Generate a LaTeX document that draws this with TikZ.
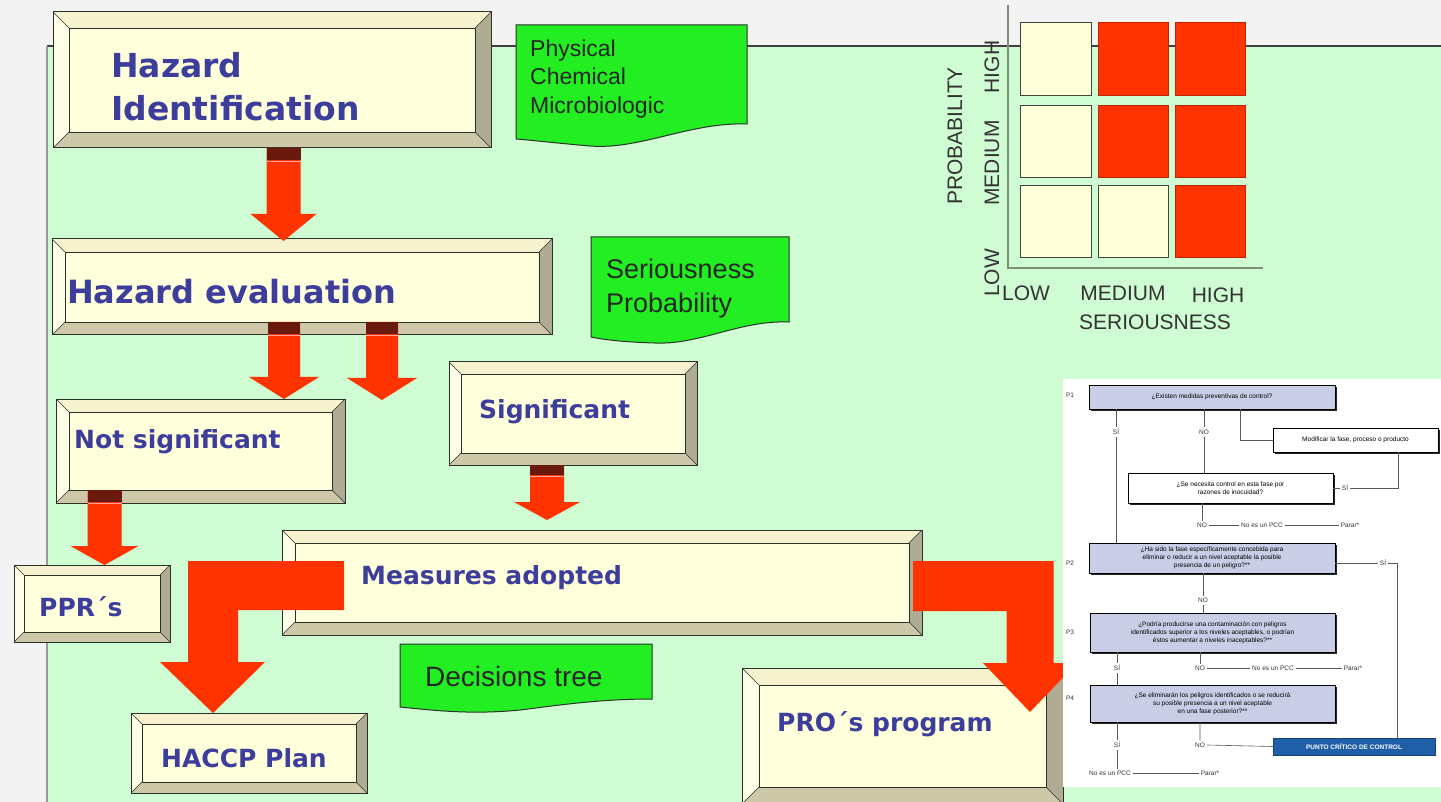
\documentclass[tikz,border=0pt]{standalone}
\usepackage{fontspec}
\setmainfont{Liberation Sans}
\newfontfamily\bxfont{DejaVu Sans}
\usetikzlibrary{calc,shadows}
\definecolor{mint}{HTML}{CFFCD2}
\definecolor{topgray}{HTML}{F2F3F2}
\definecolor{face}{HTML}{FFFFDC}
\definecolor{bvtop}{HTML}{F6F2CE}
\definecolor{bvleft}{HTML}{FFFFE8}
\definecolor{bvright}{HTML}{B0AC94}
\definecolor{bvbot}{HTML}{CCC8A8}
\definecolor{edge}{HTML}{2A302A}
\definecolor{arrowred}{HTML}{FF3300}
\definecolor{band}{HTML}{6A1A0C}
\definecolor{notegreen}{HTML}{22EE22}
\definecolor{txtblue}{HTML}{3D3D9B}
\definecolor{cellcream}{HTML}{FFFFD8}
\definecolor{axisgray}{HTML}{7E9078}
\definecolor{dtblue}{HTML}{C9CDE6}
\definecolor{pccblue}{HTML}{1F5FA8}

\newcommand\bevelfill[1]{%
  \path (path picture bounding box.north west) coordinate (pNW)
        (path picture bounding box.north east) coordinate (pNE)
        (path picture bounding box.south west) coordinate (pSW)
        (path picture bounding box.south east) coordinate (pSE);
  \path ([shift={(#1pt,-#1pt)}]pNW) coordinate (qNW)
        ([shift={(-#1pt,-#1pt)}]pNE) coordinate (qNE)
        ([shift={(#1pt,#1pt)}]pSW) coordinate (qSW)
        ([shift={(-#1pt,#1pt)}]pSE) coordinate (qSE);
  \fill[bvtop] (pNW)--(pNE)--(qNE)--(qNW)--cycle;
  \fill[bvleft] (pNW)--(qNW)--(qSW)--(pSW)--cycle;
  \fill[bvright] (pNE)--(pSE)--(qSE)--(qNE)--cycle;
  \fill[bvbot] (pSW)--(qSW)--(qSE)--(pSE)--cycle;
  \draw[edge, line width=0.9pt] (qNW) rectangle (qSE);
  \draw[edge, line width=0.5pt] (pNW)--(qNW) (pNE)--(qNE) (pSW)--(qSW) (pSE)--(qSE);
}

% #1 style, #2 name, #3 x1, #4 y1, #5 x2, #6 y2, #7 text
\newcommand\cnode[7]{%
  \pgfmathsetmacro\cx{(#3+#5)/2}\pgfmathsetmacro\cy{(#4+#6)/2}%
  \pgfmathsetmacro\ww{#5-#3}\pgfmathsetmacro\hh{#6-#4}%
  \node[inner sep=0pt, outer sep=0pt, #1, minimum width=\ww pt, minimum height=\hh pt] (#2) at (\cx,\cy) {#7};}

% #1 start, #2 tip, #3 shaft half width, #4 head half width, #5 head length, #6 band length
\newcommand\redarrowdown[6]{%
  \fill[arrowred] ($(#1)+(-#3,0)$) -- ($(#1)+(#3,0)$) -- ($(#2)+(#3,-#5)$) -- ($(#2)+(#4,-#5)$)
     -- (#2) -- ($(#2)+(-#4,-#5)$) -- ($(#2)+(-#3,-#5)$) -- cycle;
  \fill[band] ($(#1)+(-#3,0)$) rectangle ($(#1)+(#3,#6)$);
  \draw[red!35!white, line width=1pt] ($(#1)+(-#3,#6+1.5)$) -- ($(#1)+(#3,#6+1.5)$);
}

\tikzset{
  bevel/.style={fill=face, draw=edge, line width=1pt, path picture={\bevelfill{#1}}},
  boxtext/.style={text=txtblue, inner sep=0pt, anchor=west, align=left,
      font=\bxfont\bfseries\fontsize{25}{30}\selectfont},
  notetext/.style={text=black!85, inner sep=0pt, anchor=west, align=left},
  note/.style={fill=notegreen, draw=edge, line width=1pt},
  cellc/.style={fill=cellcream, draw=edge!90, line width=1pt},
  cellr/.style={fill=arrowred, draw=arrowred!75!black, line width=1pt},
  axlab/.style={text=black!80, inner sep=0pt, font=\fontsize{21}{24}\selectfont},
  dtq/.style={fill=dtblue, draw=black, line width=0.7pt, align=center,
      font=\fontsize{6.5}{8}\selectfont,
      drop shadow={shadow xshift=2pt, shadow yshift=-2pt, fill=black!85, opacity=1}},
  dtw/.style={fill=white, draw=black, line width=0.7pt, align=center,
      font=\fontsize{6.5}{8}\selectfont,
      drop shadow={shadow xshift=2pt, shadow yshift=-2pt, fill=black!85, opacity=1}},
  pccbox/.style={fill=pccblue, draw=pccblue!70!black, text=white, align=center,
      font=\bfseries\fontsize{6.5}{8}\selectfont},
  dtt/.style={inner sep=2pt, font=\fontsize{6.5}{8}\selectfont, text=black!80},
  dtl/.style={draw=black!65, line width=0.6pt},
  axisline/.style={draw=axisgray, line width=1.2pt},
}

\begin{document}
\begin{tikzpicture}[x=1pt,y=-1pt]
\useasboundingbox (0,0) rectangle (1441,802);
\clip (0,0) rectangle (1441,802);

% background and frame
\fill[topgray] (0,0) rectangle (1441,802);
\fill[mint] (47,46) rectangle (1441,802);
\draw[black!75, line width=1.5pt] (47,46) -- (1441,46);
\draw[black!40, line width=1.2pt] (47,46) -- (47,802);

% risk matrix
\coordinate (axy) at (1008,5);
\coordinate (ax0) at (1008,268);
\coordinate (axx) at (1263,268);
\draw[axisline] (axy) -- (ax0) -- (axx);
\cnode{cellc}{c11}{1020}{23}{1091}{96}{}
\cnode{cellr}{c12}{1098}{23}{1168}{96}{}
\cnode{cellr}{c13}{1175}{23}{1245}{96}{}
\cnode{cellc}{c21}{1020}{106}{1091}{178}{}
\cnode{cellr}{c22}{1098}{106}{1168}{178}{}
\cnode{cellr}{c23}{1175}{106}{1245}{178}{}
\cnode{cellc}{c31}{1020}{186}{1091}{258}{}
\cnode{cellc}{c32}{1098}{186}{1168}{258}{}
\cnode{cellr}{c33}{1175}{186}{1245}{258}{}
\node[axlab, rotate=90] (lprob) at (955,136) {PROBABILITY};
\node[axlab, rotate=90] (lphigh) at (992,67) {HIGH};
\node[axlab, rotate=90] (lpmed) at (992,163) {MEDIUM};
\node[axlab, rotate=90] (lplow) at (992,273) {LOW};
\node[axlab] (lslow) at (1026,293) {LOW};
\node[axlab] (lsmed) at (1123,293) {MEDIUM};
\node[axlab] (lshigh) at (1218,295) {HIGH};
\node[axlab] (lser) at (1155,322) {SERIOUSNESS};

% green notes
\draw[note] (516,25) -- (747,25) -- (747,124) .. controls (690,122) and (640,150) .. (590,146)
   .. controls (555,143) and (530,140) .. (516,139) -- cycle;
\node[notetext, font=\fontsize{23}{28.5}\selectfont] (n1t) at (530,79) {Physical\\Chemical\\Microbiologic};
\draw[note] (591,237) -- (789,237) -- (789,322) .. controls (740,320) and (700,345) .. (655,343)
   .. controls (620,342) and (600,339) .. (591,337) -- cycle;
\node[notetext, font=\fontsize{27}{34}\selectfont] (n2t) at (606,289) {Seriousness\\Probability};
\draw[note] (400,644) -- (652,644) -- (652,699) .. controls (600,699) and (560,705) .. (520,710)
   .. controls (470,715) and (430,710) .. (400,707) -- cycle;
\node[notetext, font=\fontsize{28}{32}\selectfont] (n3t) at (425,676) {Decisions tree};

% bevel boxes
\cnode{bevel=16}{hi}{53}{12}{491}{148}{}
\cnode{bevel=13}{he}{52}{239}{552}{335}{}
\cnode{bevel=13}{ns}{56}{399}{345}{503}{}
\cnode{bevel=12}{sig}{449}{362}{697}{465}{}
\cnode{bevel=13}{ma}{282}{530}{922}{635}{}
\cnode{bevel=10}{ppr}{14}{565}{170}{642}{}
\cnode{bevel=11}{haccp}{131}{713}{367}{793}{}
\cnode{bevel=17}{pro}{742}{668}{1063}{804}{}

% straight arrows
\path (hi.south) ++(11.5,0) coordinate (a1s);
\path (a1s |- he.north) ++(0,2) coordinate (a1t);
\redarrowdown{a1s}{a1t}{17}{33}{27}{12}
\path (he.south) ++(-18,-13) coordinate (a2s);
\path (a2s |- ns.north) coordinate (a2t);
\redarrowdown{a2s}{a2t}{16}{35}{22}{12}
\path (he.south) ++(80,-13) coordinate (a3s);
\path (a3s) ++(0,78) coordinate (a3t);
\redarrowdown{a3s}{a3t}{16}{35}{22}{12}
\path (ns.south) ++(-96,-13) coordinate (a4s);
\path (a4s |- ppr.north) coordinate (a4t);
\redarrowdown{a4s}{a4t}{17}{34}{19}{12}
\path (sig.south) ++(-26,0) coordinate (a5s);
\path (a5s |- ma.north) ++(0,-10) coordinate (a5t);
\redarrowdown{a5s}{a5t}{17}{33}{18}{10}

% L-shaped arrow to HACCP plan
\path (ma.west) ++(62,3) coordinate (L1);
\path (haccp.north) ++(-36,0) coordinate (L2);
\path (L1) ++(0,-24.5) coordinate (La) (L1) ++(0,24.5) coordinate (Lb);
\path (L2) ++(-25,-51) coordinate (Lc) (L2) ++(25,-51) coordinate (Ld)
      (L2) ++(-53,-51) coordinate (Le) (L2) ++(52,-51) coordinate (Lf);
\fill[arrowred] (La) -| (Lc) -- (Le) -- (L2) -- (Lf) -- (Ld) |- (Lb) -- cycle;

% L-shaped arrow to PRO's program
\path (ma.east) ++(-9,3.5) coordinate (R1);
\path (pro.north east) ++(-33,44) coordinate (R2);
\path (R1) ++(0,-25) coordinate (Ra) (R1) ++(0,25) coordinate (Rb);
\path (R2) ++(23.5,-49) coordinate (Rc) (R2) ++(-23.5,-49) coordinate (Rd)
      (R2) ++(47,-49) coordinate (Re) (R2) ++(-47,-49) coordinate (Rf);
\fill[arrowred] (Ra) -| (Rc) -- (Re) -- (R2) -- (Rf) -- (Rd) |- (Rb) -- cycle;

% box texts
\node[boxtext, font=\bxfont\bfseries\fontsize{33}{43}\selectfont] (hit) at (111,87) {Hazard\\Identification};
\node[boxtext, font=\bxfont\bfseries\fontsize{32}{38}\selectfont] (het) at (67,292) {Hazard evaluation};
\node[boxtext] (nst) at (74,442) {Not significant};
\node[boxtext] (sigt) at (479,412) {Significant};
\node[boxtext] (mat) at (361,578) {Measures adopted};
\node[boxtext] (pprt) at (39,607) {PPR´s};
\node[boxtext] (haccpt) at (161,758) {HACCP Plan};
\node[boxtext] (prot) at (777,724) {PRO´s program};

% decision tree panel
\cnode{fill=white}{dt}{1063}{379}{1441}{787}{}
\cnode{dtq}{q1}{1089}{385}{1335}{409}{¿Existen medidas preventivas de control?}
\node[dtt] (p1) at (1070,395) {P1};
\node[dtt] (q1si) at (1116,432) {SÍ};
\node[dtt] (q1no) at (1204,432) {NO};
\cnode{dtw}{mod}{1273}{428}{1438}{452}{Modificar la fase, proceso o producto}
\cnode{dtw}{qc}{1128}{473}{1333}{503}{¿Se necesita control en esta fase por\\razones de inocuidad?}
\node[dtt] (qcsi) at (1345,488) {SÍ};
\node[dtt] (qcno) at (1202,525) {NO};
\node[dtt] (qcpcc) at (1262,525) {No es un PCC};
\node[dtt] (qcpar) at (1350,525) {Parar*};
\cnode{dtq}{q2}{1089}{543}{1335}{573}{¿Ha sido la fase específicamente concebida para\\eliminar o reducir a un nivel aceptable la posible\\presencia de un peligro?**}
\node[dtt] (p2) at (1070,563) {P2};
\node[dtt] (q2si) at (1383,563) {SÍ};
\node[dtt] (q2no) at (1203,600) {NO};
\cnode{dtq}{q3}{1090}{613}{1335}{652}{¿Podría producirse una contaminación con peligros\\identificados superior a los niveles aceptables, o podrían\\éstos aumentar a niveles inaceptables?**}
\node[dtt] (p3) at (1070,632) {P3};
\node[dtt] (q3si) at (1117,668) {SÍ};
\node[dtt] (q3no) at (1200,668) {NO};
\node[dtt] (q3pcc) at (1273,668) {No es un PCC};
\node[dtt] (q3par) at (1353,668) {Parar*};
\cnode{dtq}{q4}{1090}{685}{1335}{722}{¿Se eliminarán los peligros identificados o se reducirá\\su posible presencia a un nivel aceptable\\en una fase posterior?**}
\node[dtt] (p4) at (1070,698) {P4};
\node[dtt] (q4si) at (1117,745) {SÍ};
\node[dtt] (q4no) at (1200,745) {NO};
\cnode{pccbox}{pcc}{1273}{738}{1435}{755}{PUNTO CRÍTICO DE CONTROL}
\node[dtt] (endpcc) at (1110,773) {No es un PCC};
\node[dtt] (endpar) at (1210,773) {Parar*};
\coordinate (mx) at (1240,440);
\coordinate (mx2) at (1398,488);
\coordinate (vx) at (1397,563);
\draw[dtl] (q1si |- q1.south) -- (q1si.north) (q1si.south) -- (q1si |- q2.north);
\draw[dtl] (q1no |- q1.south) -- (q1no.north) (q1no.south) -- (q1no |- qc.north);
\draw[dtl] (mx |- q1.south) |- (mod.west);
\draw[dtl] (qc.east) -- (qcsi.west) (qcsi.east) -- (mx2) -- (mx2 |- mod.south);
\draw[dtl] (qcno |- qc.south) -- (qcno.north) (qcno.east) -- (qcpcc.west) (qcpcc.east) -- (qcpar.west);
\draw[dtl] (q2.east |- q2si) -- (q2si.west) (q2si.east) -- (vx) -- (vx |- pcc.north);
\draw[dtl] (q2no |- q2.south) -- (q2no.north) (q2no.south) -- (q2no |- q3.north);
\draw[dtl] (q3si |- q3.south) -- (q3si.north) (q3si.south) -- (q3si |- q4.north);
\draw[dtl] (q3no |- q3.south) -- (q3no.north) (q3no.east) -- (q3pcc.west) (q3pcc.east) -- (q3par.west);
\draw[dtl] (q4si |- q4.south) -- (q4si.north) (q4si.south) -- (q4si |- endpcc.north);
\draw[dtl] (q4no |- q4.south) -- (q4no.north) (q4no.east) -- (pcc.west);
\draw[dtl] (endpcc.east) -- (endpar.west);
\end{tikzpicture}
\end{document}
